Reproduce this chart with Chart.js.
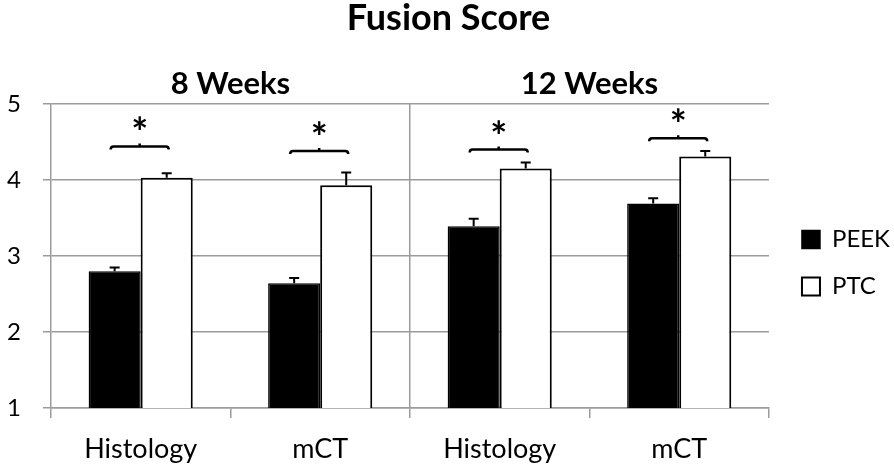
<!DOCTYPE html>
<html>
<head>
<meta charset="utf-8">
<script src="https://cdn.jsdelivr.net/npm/chart.js@4"></script>
<style>
html,body{margin:0;padding:0;background:#fff;}
#wrap{width:894px;height:466px;position:relative;}
</style>
</head>
<body>
<div id="wrap"><canvas id="c" width="894" height="466"></canvas></div>
<script>
const categories = ['Histology', 'mCT', 'Histology', 'mCT'];
const groups = ['8 Weeks', '12 Weeks'];
const peek = [2.80, 2.64, 3.39, 3.69];
const peekErr = [0.05, 0.07, 0.10, 0.07];
const ptc = [4.03, 3.93, 4.15, 4.31];
const ptcErr = [0.06, 0.17, 0.08, 0.07];
const bracketY = [4.44, 4.38, 4.40, 4.55];
const yTicks = [1, 2, 3, 4, 5];

const FONT = 'Lato, "Open Sans", sans-serif';
const GRID = '#9b9b9b';

const errs = [peekErr, ptcErr];

const legendNudge = {
  id: 'legendNudge',
  afterLayout(chart) {
    const lg = chart.legend;
    lg.left += 10; lg.right += 10;
    lg.top += 23; lg.bottom += 23;
  }
};

const annot = {
  id: 'annot',
  afterDatasetsDraw(chart) {
    const ctx = chart.ctx;
    const y = chart.scales.y;
    ctx.save();
    ctx.strokeStyle = '#000';
    ctx.lineWidth = 2;
    chart.data.datasets.forEach((ds, d) => {
      const meta = chart.getDatasetMeta(d);
      meta.data.forEach((bar, i) => {
        const top = y.getPixelForValue(ds.data[i] + errs[d][i]);
        ctx.beginPath();
        ctx.moveTo(bar.x, bar.y);
        ctx.lineTo(bar.x, top);
        ctx.moveTo(bar.x - 5, top);
        ctx.lineTo(bar.x + 5, top);
        ctx.stroke();
      });
    });
    const m0 = chart.getDatasetMeta(0), m1 = chart.getDatasetMeta(1);
    ctx.lineWidth = 2.5;
    bracketY.forEach((bv, i) => {
      const x0 = m0.data[i].x - 4, x1 = m1.data[i].x + 2;
      const by = y.getPixelForValue(bv);
      const mx = (x0 + x1) / 2;
      ctx.beginPath();
      ctx.moveTo(x0, by + 3);
      ctx.quadraticCurveTo(x0, by, x0 + 3, by);
      ctx.lineTo(x1 - 3, by);
      ctx.quadraticCurveTo(x1, by, x1, by + 3);
      ctx.moveTo(mx, by);
      ctx.lineTo(mx, by - 3);
      ctx.stroke();
      ctx.fillStyle = '#000';
      ctx.font = 'bold 40px ' + FONT;
      ctx.textAlign = 'center';
      ctx.textBaseline = 'middle';
      ctx.fillText('*', mx, by - 12);
    });
    ctx.restore();
  }
};

new Chart(document.getElementById('c'), {
  type: 'bar',
  data: {
    labels: categories,
    datasets: [
      { label: 'PEEK', data: peek, backgroundColor: '#000', borderColor: '#000', borderWidth: 1.5 },
      { label: 'PTC', data: ptc, backgroundColor: '#fff', borderColor: '#000', borderWidth: 2 }
    ]
  },
  options: {
    responsive: false,
    animation: false,
    devicePixelRatio: 1,
    categoryPercentage: 0.58,
    barPercentage: 1.0,
    layout: { padding: { left: 7, right: 4, top: 0, bottom: -14 } },
    plugins: {
      title: {
        display: true, text: 'Fusion Score', color: '#000',
        font: { family: FONT, size: 36, weight: 'bold', lineHeight: 1.0 },
        padding: { top: 0, bottom: 28 }
      },
      legend: {
        position: 'right',
        labels: {
          color: '#000', boxWidth: 18, boxHeight: 18, padding: 23,
          font: { family: FONT, size: 24 }
        }
      },
      tooltip: { enabled: false }
    },
    scales: {
      x: {
        grid: {
          offset: true,
          color: c => (c.index === 2 ? GRID : 'rgba(0,0,0,0)'),
          tickColor: GRID, lineWidth: 1.5, tickWidth: 1.5, tickLength: 10
        },
        border: { color: GRID, width: 1.5 },
        ticks: { color: '#000', padding: 17.5, font: { family: FONT, size: 27, lineHeight: 1.0 } }
      },
      x2: {
        type: 'category', labels: groups, position: 'top',
        grid: { display: false, drawTicks: false }, border: { display: false },
        ticks: { color: '#000', padding: 4.5, font: { family: FONT, size: 31, weight: 'bold', lineHeight: 1.0 } }
      },
      y: {
        min: 1, max: 5,
        afterBuildTicks: s => { s.ticks = yTicks.map(v => ({ value: v })); },
        grid: { color: GRID, lineWidth: 1.5, tickLength: 8 },
        border: { color: GRID, width: 1.5 },
        ticks: { color: '#000', padding: 11, crossAlign: 'far', font: { family: FONT, size: 24 } }
      }
    }
  },
  plugins: [annot, legendNudge]
});
</script>
</body>
</html>
